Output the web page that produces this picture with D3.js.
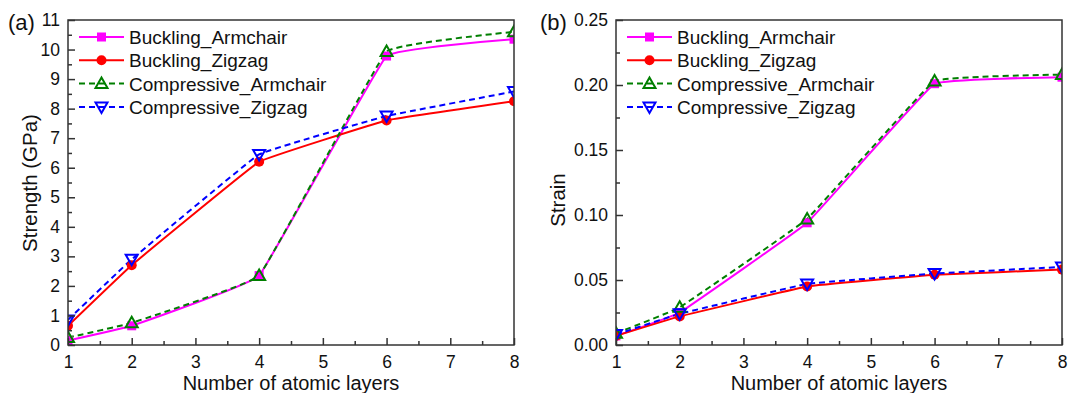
<!DOCTYPE html>
<html>
<head>
<meta charset="utf-8">
<script src="https://cdn.jsdelivr.net/npm/d3@7"></script>
<style>
  body { margin: 0; background: #fff; }
  text { font-family: Arial, "Liberation Sans", sans-serif; fill: #111; }
</style>
</head>
<body>
<svg id="vis" width="1069" height="393"></svg>
<script>
// data
var layers = [1, 2, 4, 6, 8];
var seriesNames = ["Buckling_Armchair", "Buckling_Zigzag", "Compressive_Armchair", "Compressive_Zigzag"];

var strengthBucklingArmchair = [0.15, 0.65, 2.35, 9.78, 10.35];
var strengthBucklingZigzag = [0.65, 2.7, 6.2, 7.6, 8.25];
var strengthCompressiveArmchair = [0.25, 0.75, 2.35, 9.93, 10.6];
var strengthCompressiveZigzag = [0.85, 2.9, 6.45, 7.75, 8.58];

var strainBucklingArmchair = [0.007, 0.025, 0.094, 0.201, 0.206];
var strainBucklingZigzag = [0.007, 0.022, 0.045, 0.054, 0.058];
var strainCompressiveArmchair = [0.009, 0.029, 0.097, 0.203, 0.208];
var strainCompressiveZigzag = [0.008, 0.024, 0.047, 0.055, 0.060];

var strengthTicks = [0, 1, 2, 3, 4, 5, 6, 7, 8, 9, 10, 11];
var strainTicks = [0, 0.05, 0.10, 0.15, 0.20, 0.25];
var xTicks = [1, 2, 3, 4, 5, 6, 7, 8];

var styles = [
    { color: "#ff00ff", dash: null, marker: "square" },
    { color: "#ff0000", dash: null, marker: "circle" },
    { color: "#007f00", dash: "6,4", marker: "up" },
    { color: "#0000ff", dash: "6,4", marker: "down" }
];

var svg = d3.select("#vis");

var drawMarker = function(g, type, color, x, y) {
    if (type == "square") {
        g.append("rect").attr("x", x - 4.5).attr("y", y - 4.5)
            .attr("width", 9).attr("height", 9).attr("fill", color);
    } else if (type == "circle") {
        g.append("circle").attr("cx", x).attr("cy", y).attr("r", 5).attr("fill", color);
    } else {
        var s = 6;
        var pts = type == "up"
            ? [[x, y - s], [x - s, y + s * 0.75], [x + s, y + s * 0.75]]
            : [[x, y + s], [x - s, y - s * 0.75], [x + s, y - s * 0.75]];
        g.append("path").attr("d", "M" + pts.join("L") + "Z")
            .attr("fill", "none").attr("stroke", color).attr("stroke-width", 2);
    }
};

var render_panel = function(opt) {
    var x = d3.scaleLinear().domain([1, 8]).range([opt.left, opt.right]);
    var y = d3.scaleLinear().domain(opt.yDomain).range([345, 20]);

    var g = svg.append("g");
    var clipId = "clip_" + opt.id;
    svg.append("clipPath").attr("id", clipId).append("rect")
        .attr("x", opt.left).attr("y", 20)
        .attr("width", opt.right - opt.left).attr("height", 325);

    // lines (slightly smoothed, like the original)
    var line = d3.line()
        .x(d => x(d[0]))
        .y(d => y(d[1]))
        .curve(d3.curveCardinal.tension(0.8));

    var plot = g.append("g").attr("clip-path", "url(#" + clipId + ")");
    opt.series.forEach(function(vals, i) {
        var pts = layers.map((l, j) => [l, vals[j]]);
        plot.append("path")
            .attr("d", line(pts))
            .attr("fill", "none")
            .attr("stroke", styles[i].color)
            .attr("stroke-width", 2)
            .attr("stroke-dasharray", styles[i].dash);
    });
    opt.series.forEach(function(vals, i) {
        layers.forEach(function(l, j) {
            drawMarker(plot, styles[i].marker, styles[i].color, x(l), y(vals[j]));
        });
    });

    // frame
    g.append("rect")
        .attr("x", opt.left).attr("y", 20)
        .attr("width", opt.right - opt.left).attr("height", 325)
        .attr("fill", "none").attr("stroke", "#333").attr("stroke-width", 1.5);

    // axes, ticks inward
    var xAxis = d3.axisBottom(x).tickValues(xTicks).tickSize(-7).tickPadding(8)
        .tickFormat(d3.format("d"));
    var xMinor = d3.axisBottom(x).tickValues(d3.range(1.5, 8, 1)).tickSize(-4).tickFormat("");
    var yAxis = d3.axisLeft(y).tickValues(opt.yTicks).tickSize(-7).tickPadding(8)
        .tickFormat(opt.fmt);
    var yMinor = d3.axisLeft(y).tickValues(opt.yMinor).tickSize(-4).tickFormat("");

    [[xAxis, "x"], [xMinor, "x"], [yAxis, "y"], [yMinor, "y"]].forEach(function(a) {
        var ag = g.append("g")
            .attr("transform", a[1] == "x" ? "translate(0,345)" : "translate(" + opt.left + ",0)")
            .call(a[0]);
        ag.select(".domain").remove();
        ag.selectAll("line").attr("stroke", "#333").attr("stroke-width", 1.5);
        ag.selectAll("text").attr("font-size", 17.5).attr("fill", "#111")
            .attr("font-family", "Arial, 'Liberation Sans', sans-serif");
    });
    // nudge x tick labels down a little while keeping them clear of the title
    g.selectAll("g").filter(function() { return d3.select(this).attr("transform") == "translate(0,345)"; })
        .selectAll("text").attr("dy", "0.85em");

    g.append("text")
        .attr("x", (opt.left + opt.right) / 2).attr("y", 390)
        .attr("text-anchor", "middle").attr("font-size", 20)
        .text("Number of atomic layers");

    g.append("text")
        .attr("transform", "translate(" + opt.yTitleX + "," + opt.yTitleY + ") rotate(-90)")
        .attr("text-anchor", "middle").attr("font-size", 20.5)
        .text(opt.yTitle);

    g.append("text")
        .attr("x", opt.labelX).attr("y", 30)
        .attr("font-size", 22)
        .text(opt.label);

    // legend
    seriesNames.forEach(function(name, i) {
        var ly = 37 + i * 23.3;
        var lx = opt.left + 11;
        g.append("line")
            .attr("x1", lx).attr("x2", lx + 45)
            .attr("y1", ly).attr("y2", ly)
            .attr("stroke", styles[i].color).attr("stroke-width", 2)
            .attr("stroke-dasharray", styles[i].dash);
        drawMarker(g, styles[i].marker, styles[i].color, lx + 22.5, ly);
        g.append("text")
            .attr("x", lx + 50).attr("y", ly + 7)
            .attr("font-size", 19)
            .text(name);
    });
};

render_panel({
    id: "a",
    left: 68, right: 514,
    yDomain: [0, 11],
    yTicks: strengthTicks,
    yMinor: d3.range(0.5, 11, 1),
    fmt: d3.format("d"),
    series: [strengthBucklingArmchair, strengthBucklingZigzag, strengthCompressiveArmchair, strengthCompressiveZigzag],
    yTitle: "Strength (GPa)",
    yTitleX: 37, yTitleY: 183,
    label: "(a)", labelX: 8
});

render_panel({
    id: "b",
    left: 616, right: 1062,
    yDomain: [0, 0.25],
    yTicks: strainTicks,
    yMinor: d3.range(0.025, 0.25, 0.05),
    fmt: d3.format(".2f"),
    series: [strainBucklingArmchair, strainBucklingZigzag, strainCompressiveArmchair, strainCompressiveZigzag],
    yTitle: "Strain",
    yTitleX: 565, yTitleY: 200,
    label: "(b)", labelX: 540
});
</script>
</body>
</html>
